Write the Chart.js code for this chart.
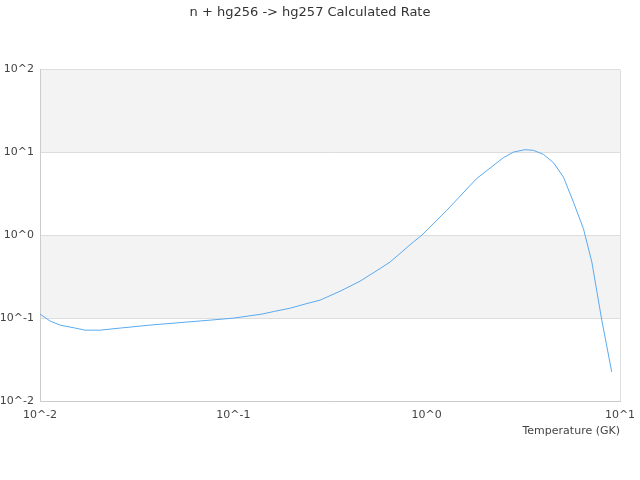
<!DOCTYPE html>
<html>
<head>
<meta charset="utf-8">
<script src="https://cdn.jsdelivr.net/npm/chart.js@4"></script>
<style>
  html, body { margin: 0; padding: 0; background: #fff; }
  #wrap { width: 640px; height: 480px; }
</style>
</head>
<body>
<div id="wrap"><canvas id="chart"></canvas></div>
<script>
// temperature grid (GK) and rate
const temperatures = [0.01, 0.0113, 0.0127, 0.0152, 0.0171, 0.0193, 0.0204, 0.026, 0.037, 0.053,
  0.0758, 0.1, 0.1406, 0.164, 0.197, 0.235, 0.281, 0.356, 0.452, 0.574, 0.647, 0.853, 0.943,
  1.27, 1.81, 2.49, 2.81, 3.23, 3.57, 4.02, 4.53, 5.1, 5.74, 6.47, 7.15, 8.05, 9.06];
const rates = [0.112, 0.092, 0.0824, 0.0759, 0.0716, 0.0716, 0.0716, 0.0759, 0.0824, 0.0883,
  0.0946, 0.1, 0.112, 0.121, 0.132, 0.148, 0.165, 0.211, 0.279, 0.397, 0.476, 0.83, 1.0,
  2.0, 4.82, 8.63, 10.1, 10.8, 10.6, 9.46, 7.52, 5.04, 2.52, 1.2, 0.476, 0.0946, 0.0225];
const xTicks = [0.01, 0.1, 1, 10];
const yTicks = [0.01, 0.1, 1, 10, 100];
const shadedBands = [[0.1, 1], [10, 100]];

const fmt = v => '10^' + Math.round(Math.log10(v));
const decadeTicks = list => scale => { scale.ticks = list.map(v => ({ value: v })); };

// grey bands behind the lines
const bandPlugin = {
  id: 'bands',
  beforeDraw(chart) {
    const { ctx, chartArea, scales } = chart;
    ctx.save();
    ctx.fillStyle = '#f3f3f3';
    shadedBands.forEach(([lo, hi]) => {
      const top = scales.y.getPixelForValue(hi);
      const bottom = scales.y.getPixelForValue(lo);
      ctx.fillRect(chartArea.left, top, chartArea.right - chartArea.left, bottom - top);
    });
    ctx.restore();
  }
};

Chart.defaults.font.family = '"DejaVu Sans", sans-serif';
Chart.defaults.font.size = 11;
Chart.defaults.color = '#444';

new Chart(document.getElementById('chart'), {
  type: 'line',
  data: {
    datasets: [{
      data: temperatures.map((t, i) => ({ x: t, y: rates[i] })),
      borderColor: 'rgb(90, 170, 240)',
      borderWidth: 1,
      pointRadius: 0,
      fill: false,
      tension: 0
    }]
  },
  options: {
    responsive: true,
    maintainAspectRatio: false,
    animation: false,
    layout: { padding: { left: 0, right: 20, top: 0, bottom: 42 } },
    plugins: {
      legend: { display: false },
      tooltip: { enabled: false },
      title: {
        display: true,
        text: 'n + hg256 -> hg257 Calculated Rate',
        color: '#333',
        font: { size: 13, weight: 'normal' },
        padding: { top: 5, bottom: 49 }
      }
    },
    scales: {
      x: {
        type: 'logarithmic',
        min: 0.01,
        max: 10,
        afterBuildTicks: decadeTicks(xTicks),
        afterFit: scale => {
          scale.height = 37;
          scale.paddingLeft = 0;
          scale.paddingRight = 0;
        },
        ticks: { callback: fmt, maxRotation: 0, padding: 8 },
        // only the right edge gets a vertical line
        grid: {
          color: c => (c.tick && c.tick.value === 10 ? '#ddd' : 'rgba(0,0,0,0)'),
          drawTicks: false
        },
        border: { color: '#ccc' },
        title: { display: true, text: 'Temperature (GK)', align: 'end', padding: 0 }
      },
      y: {
        type: 'logarithmic',
        min: 0.01,
        max: 100,
        afterBuildTicks: decadeTicks(yTicks),
        afterFit: scale => { scale.width = 40; },
        ticks: { callback: fmt, padding: 6 },
        grid: { color: '#ddd', drawTicks: false },
        border: { color: '#ccc' }
      }
    }
  },
  plugins: [bandPlugin]
});
</script>
</body>
</html>
